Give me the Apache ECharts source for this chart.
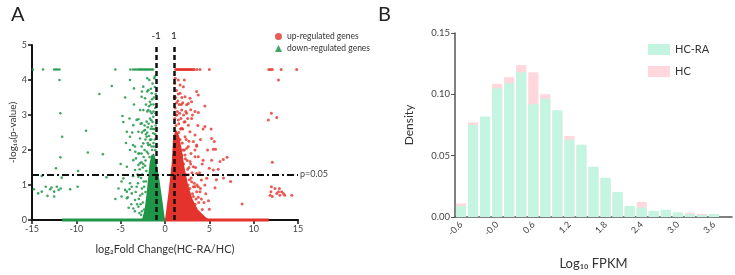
<!DOCTYPE html>
<html lang="en">
<head>
    <meta charset="UTF-8">
    <title>Volcano + density</title>
</head>
<body style="margin:0;background:#fff;">
    <div id="main" style="width:735px;height:275px;"></div>
    <script src="https://cdn.jsdelivr.net/npm/echarts@6/dist/echarts.min.js"></script>
    <script>
        // ---- panel A : volcano plot (log2FC, -log10 p) ----
        var downPoints = [
            [-14.9, 4.3], [-13.75, 4.3], [-12.5, 4.3], [-12.3, 4.3], [-12.1, 4.3], [-11.9, 4.3], [-5.6, 4.3],
            [-3.9, 4.3], [-3.6, 4.3], [-3.4, 4.3], [-3.2, 4.3], [-3.0, 4.3], [-2.85, 4.3], [-2.7, 4.3], [-2.55, 4.3],
            [-2.4, 4.3], [-2.25, 4.3], [-2.1, 4.3], [-1.95, 4.3], [-1.8, 4.3], [-1.65, 4.3], [-1.5, 4.3], [-1.35, 4.3],
            [-11.9, 4.0], [-7.4, 3.6], [-6.0, 3.83], [-11.8, 3.05], [-8.9, 2.55], [-11.6, 2.38], [-11.8, 1.79],
            [-8.7, 1.93], [-7.0, 1.88], [-12.3, 1.48], [-9.8, 1.4], [-13.9, 1.26], [-11.65, 1.21], [-6.6, 1.22],
            [-14.8, 0.88], [-14.3, 0.76], [-13.9, 0.81], [-13.45, 0.95], [-12.95, 0.88], [-13.25, 0.69], [-12.8, 0.93],
            [-12.5, 0.81], [-12.5, 0.67], [-12.2, 0.95], [-12.0, 0.86], [-11.75, 0.9], [-10.7, 0.88], [-9.85, 0.95],
            [-5.25, 0.9], [-4.9, 1.1], [-4.9, 0.67], [-4.3, 0.81], [-4.0, 0.88], [-4.2, 0.65], [-3.75, 0.95],
            [-4.3, 1.52], [-3.95, 2.0], [-3.6, 2.14], [-3.27, 1.76], [-3.0, 1.57],
            [-4.5, 3.5], [-3.5, 3.3], [-4.8, 2.97], [-4.0, 2.9], [-4.7, 2.8], [-3.0, 2.88], [-4.3, 2.52],
            [-2.45, 3.14], [-2.6, 3.67], [-2.0, 3.67], [-2.25, 3.48],
            [-3.95, 4.0], [-3.5, 3.76], [-2.45, 3.81], [-1.77, 4.0], [-1.88, 3.71], [-1.5, 3.62], [-2.63, 3.52],
            [-1.7, 3.38], [-2.8, 3.14], [-1.88, 3.14], [-1.5, 3.05], [-3.2, 2.86], [-3.57, 2.71], [-2.63, 2.76],
            [-2.07, 2.81], [-1.7, 2.9], [-1.32, 2.95], [-3.0, 2.52], [-2.25, 2.57], [-1.5, 2.67], [-3.95, 2.38],
            [-2.82, 2.33], [-2.07, 2.38], [-1.7, 2.29], [-1.32, 2.48], [-2.45, 2.19], [-1.88, 2.14], [-1.5, 2.1],
            [-3.38, 2.1], [-1.3, 2.2],
            [-3.57, 1.71], [-4.7, 1.19], [-4.5, 0.86], [-3.95, 1.05], [-3.75, 0.76], [-4.3, 0.62], [-3.38, 0.57],
            [-3.0, 0.38], [-3.57, 0.33], [-3.2, 0.95], [-3.0, 1.24], [-3.38, 1.43], [-2.82, 1.62], [-3.0, 1.9], [-2.63, 2.1],
            [-2.7, 1.2], [-2.5, 1.5], [-2.4, 1.8], [-2.3, 2.0], [-2.2, 1.7], [-2.1, 1.4], [-2.6, 0.9], [-2.8, 0.7],
            [-2.5, 0.5], [-2.9, 0.2], [-2.7, 0.15], [-2.4, 1.1], [-2.2, 2.3], [-2.0, 2.5], [-1.9, 1.9], [-1.8, 2.4],
            [-1.6, 2.6], [-1.4, 2.8], [-1.2, 2.6], [-1.1, 3.2], [-1.25, 3.5], [-1.4, 3.9], [-1.15, 3.8], [-1.3, 3.3],
            [-1.6, 3.3], [-2.0, 3.1], [-2.3, 2.7], [-2.6, 2.5], [-2.9, 1.9], [-3.1, 1.3], [-3.3, 0.8], [-2.2, 0.8],
            [-2.35, 0.3], [-2.55, 1.3], [-2.65, 1.9], [-2.15, 1.1], [-1.95, 2.2], [-1.75, 1.8], [-1.55, 2.3],
            [-1.15, 2.3], [-1.05, 2.7], [-1.1, 2.0],
            [-1.05, 3.6], [-1.2, 4.05], [-1.45, 3.45], [-1.65, 3.1], [-1.85, 2.75], [-1.35, 2.6], [-1.55, 2.85],
            [-1.1, 2.45], [-1.25, 2.1], [-1.45, 2.0], [-1.7, 2.15], [-2.05, 1.95], [-2.25, 1.55], [-2.45, 1.6],
            [-2.35, 0.95], [-2.55, 0.75], [-2.75, 0.45], [-2.95, 0.6], [-3.15, 0.45], [-3.4, 0.25], [-2.6, 0.25],
            [-3.05, 1.05], [-2.85, 1.45], [-2.65, 1.65], [-2.15, 2.45], [-1.95, 2.65], [-2.4, 2.55], [-2.75, 2.75],
            [-1.8, 3.25], [-2.15, 3.3], [-1.3, 3.1], [-1.05, 3.05], [-1.6, 3.75], [-2.0, 4.05], [-1.15, 4.1],
            [-3.6, 1.25], [-3.8, 0.45], [-4.1, 0.35], [-3.35, 1.95], [-3.7, 2.5], [-4.4, 2.2], [-5.0, 1.6],
            [-5.6, 0.6], [-1.2, 1.7], [-1.05, 1.4]
        ];
        var upPoints = [
            [1.2, 4.3], [1.32, 4.3], [1.44, 4.3], [1.56, 4.3], [1.68, 4.3], [1.8, 4.3], [1.92, 4.3], [2.04, 4.3],
            [2.16, 4.3], [2.28, 4.3], [2.4, 4.3], [2.52, 4.3], [2.64, 4.3], [2.76, 4.3], [2.88, 4.3], [3.0, 4.3],
            [3.15, 4.3], [3.3, 4.3], [3.6, 4.3], [3.95, 4.3], [5.0, 4.3], [11.7, 4.3], [11.9, 4.3], [12.1, 4.3],
            [13.1, 4.3], [14.85, 4.3],
            [12.8, 4.0], [12.0, 3.05], [11.65, 2.86], [12.6, 2.93], [12.1, 1.65], [12.0, 0.95], [12.4, 0.9],
            [12.8, 0.81], [12.95, 0.71], [13.15, 0.81], [13.35, 0.76], [12.6, 0.76], [11.95, 0.81], [12.1, 0.67],
            [13.5, 0.71], [14.3, 0.71], [11.85, 0.71], [12.9, 0.9], [8.7, 0.46], [5.0, 0.31],
            [4.5, 3.26], [4.5, 2.67], [5.26, 2.33], [5.56, 2.24], [5.45, 2.02], [5.7, 2.02], [7.0, 1.79], [6.58, 1.73],
            [6.2, 1.67], [5.26, 1.71], [6.0, 1.45], [5.0, 1.48], [5.45, 1.43], [4.3, 1.71], [3.76, 1.81], [3.38, 2.0],
            [3.57, 2.11], [4.1, 1.14], [4.7, 1.19], [4.5, 1.0], [5.64, 0.92], [3.76, 0.95], [3.95, 0.81],
            [3.57, 3.67], [3.76, 3.57], [3.0, 3.38], [3.38, 3.1], [3.76, 3.07], [2.63, 3.33], [2.18, 4.0], [1.5, 4.0],
            [1.7, 3.86], [2.07, 3.81], [1.7, 3.62], [2.26, 3.52], [2.82, 3.48], [2.44, 3.29], [1.88, 3.14], [2.44, 3.05],
            [3.0, 2.9], [2.26, 2.81], [2.63, 2.71], [1.88, 2.62], [1.5, 2.86], [2.82, 2.52], [3.38, 2.43], [2.26, 2.38],
            [3.2, 2.24], [3.57, 2.14], [2.63, 2.1], [2.93, 1.9], [3.38, 1.81], [2.26, 1.86], [2.82, 1.67], [3.2, 1.52],
            [3.57, 1.33], [2.63, 1.29], [3.0, 1.09], [3.38, 0.95], [2.63, 0.81], [3.2, 0.67], [2.26, 0.57], [2.82, 0.47],
            [3.57, 0.81],
            [1.1, 3.9], [1.3, 3.7], [1.2, 3.5], [1.45, 3.4], [1.15, 3.2], [1.35, 3.0], [1.6, 3.3], [1.25, 2.7],
            [1.55, 2.5], [1.8, 2.9], [2.0, 2.6], [2.1, 3.0], [1.95, 2.2], [2.2, 2.0], [2.4, 2.3], [2.5, 1.7],
            [2.1, 1.6], [2.35, 1.3], [2.6, 1.0], [2.0, 1.1], [2.8, 0.9], [2.45, 0.7], [3.0, 0.5], [3.3, 0.3],
            [2.9, 0.25], [3.6, 0.2], [1.7, 2.0], [1.4, 2.2], [1.05, 2.4], [1.1, 2.9], [1.9, 3.5], [1.4, 3.1],
            [1.75, 2.6], [2.7, 1.5], [2.95, 1.2], [3.1, 0.75], [3.8, 0.5], [4.2, 0.3], [3.5, 0.6], [4.0, 0.9],
            [1.05, 3.5], [1.15, 4.05], [1.3, 3.35], [1.5, 3.6], [1.65, 3.05], [1.85, 3.3], [2.0, 3.35], [2.15, 2.8],
            [2.35, 3.1], [2.55, 2.9], [1.3, 2.45], [1.55, 2.75], [1.7, 2.3], [1.9, 1.85], [2.05, 2.0], [2.3, 1.75],
            [2.45, 2.05], [2.7, 2.25], [2.55, 1.45], [2.75, 1.15], [2.9, 1.6], [3.05, 1.35], [3.3, 1.05], [3.45, 1.5],
            [3.2, 0.95], [3.6, 1.0], [3.75, 0.65], [4.1, 0.6], [4.4, 0.5], [4.6, 0.75], [4.9, 0.55], [3.9, 1.35],
            [4.2, 1.6], [4.0, 2.3], [4.3, 2.6], [3.7, 2.7], [3.1, 3.0], [2.9, 3.15], [1.25, 3.0], [1.45, 1.9],
            [1.05, 2.2], [3.4, 0.45], [2.7, 0.6], [4.8, 2.0], [5.2, 2.6], [6.6, 1.2], [7.4, 1.1], [5.8, 1.15]
        ];
        // solid cores where the points overlap completely
        var downCore = [[0, 0], [-2.6, 0], [-2.3, 0.3], [-2.1, 0.7], [-1.9, 1.2], [-1.75, 1.6], [-1.55, 1.85],
            [-1.25, 1.9], [-1.0, 1.7], [-0.6, 1.1], [-0.3, 0.55]];
        var upCore = [[0, 0], [0.4, 0.8], [0.75, 1.6], [0.9, 2.3], [1.2, 2.6], [1.6, 2.4], [1.9, 2.0],
            [2.2, 1.5], [2.6, 1.0], [3.1, 0.6], [3.7, 0.3], [4.5, 0.1], [5.0, 0]];
        // genes stacked on p = 1 (y = 0)
        var downBase = [[-11.6, 0], [0, 0]];
        var upBase = [[0, 0], [11.7, 0]];

        // ---- panel B : density of log10 FPKM ----
        var fpkmBins = ['-0.6', '-0.4', '-0.2', '-0.0', '0.2', '0.4', '0.6', '0.8', '1.0', '1.2', '1.4', '1.6',
            '1.8', '2.0', '2.2', '2.4', '2.6', '2.8', '3.0', '3.2', '3.4', '3.6', '3.8'];
        var hcraDensity = [0.009, 0.075, 0.082, 0.105, 0.109, 0.118, 0.092, 0.0965, 0.087, 0.063, 0.059, 0.041,
            0.032, 0.0204, 0.0091, 0.0078, 0.005, 0.0059, 0.0038, 0.0025, 0.0015, 0.0025, 0];
        var hcDensity = [0.011, 0.077, 0.080, 0.1086, 0.114, 0.124, 0.118, 0.100, 0.085, 0.066, 0.057, 0.040,
            0.031, 0.019, 0.008, 0.0123, 0.004, 0.005, 0.003, 0.0035, 0.0025, 0.002, 0];

        var GREEN = '#1f9548';
        var RED = '#e3332c';
        var FONT = 'Lato';

        function polygonSeries(name, pts, color) {
            return {
                name: name,
                type: 'custom',
                xAxisIndex: 0,
                yAxisIndex: 0,
                clip: false,
                silent: true,
                z: 1,
                data: pts,
                encode: { x: 0, y: 1 },
                renderItem: function (params, api) {
                    if (params.dataIndex > 0) return;
                    var p = pts.map(function (d) { return api.coord(d); });
                    return { type: 'polygon', shape: { points: p }, style: { fill: color } };
                }
            };
        }

        var myChart = echarts.init(document.getElementById('main'));
        var option = {
            animation: false,
            textStyle: { fontFamily: FONT },
            title: [
                { text: 'A', left: 6, top: 0, textStyle: { fontSize: 20, fontWeight: 'normal', color: '#222', fontFamily: FONT } },
                { text: 'B', left: 373, top: 0, textStyle: { fontSize: 20, fontWeight: 'normal', color: '#222', fontFamily: FONT } }
            ],
            legend: [
                {
                    left: 270, top: 27, orient: 'vertical', itemGap: 3, itemWidth: 7, itemHeight: 7,
                    textStyle: { fontSize: 8.5, color: '#333', fontFamily: FONT },
                    data: [
                        { name: 'up-regulated genes', icon: 'circle' },
                        { name: 'down-regulated genes', icon: 'triangle' }
                    ]
                },
                {
                    left: 643, top: 39, orient: 'vertical', itemGap: 11, itemWidth: 22, itemHeight: 11,
                    textStyle: { fontSize: 11, color: '#333', fontFamily: FONT },
                    data: [{ name: 'HC-RA', icon: 'rect' }, { name: 'HC', icon: 'rect' }]
                }
            ],
            grid: [
                { left: 32, right: 437, top: 45, bottom: 55 },
                { left: 455, right: 3, top: 33, bottom: 57 }
            ],
            xAxis: [
                {
                    gridIndex: 0, type: 'value', min: -15, max: 15, interval: 5,
                    axisLine: { onZero: false, lineStyle: { color: '#111', width: 2 } },
                    axisTick: { length: 4, lineStyle: { color: '#111', width: 1.5 } },
                    axisLabel: { fontSize: 9, color: '#444', margin: 5 },
                    splitLine: { show: false },
                    name: 'log₂Fold Change(HC-RA/HC)', nameLocation: 'middle', nameGap: 24,
                    nameTextStyle: { fontSize: 11, color: '#333' }
                },
                {
                    gridIndex: 1, type: 'category', data: fpkmBins, boundaryGap: true,
                    axisLine: { lineStyle: { color: '#555', width: 1.5 } },
                    axisTick: { interval: 2, alignWithLabel: true, length: 4, lineStyle: { color: '#555' } },
                    axisLabel: { interval: 2, rotate: 45, fontSize: 9, color: '#444', margin: 6 },
                    name: 'Log₁₀ FPKM', nameLocation: 'middle', nameGap: 40,
                    nameTextStyle: { fontSize: 13, color: '#333' }
                }
            ],
            yAxis: [
                {
                    gridIndex: 0, type: 'value', min: 0, max: 5, interval: 1,
                    axisLine: { show: true, onZero: false, lineStyle: { color: '#111', width: 2 } },
                    axisTick: { show: true, length: 4, lineStyle: { color: '#111', width: 1.5 } },
                    axisLabel: { fontSize: 9, color: '#444', margin: 5 },
                    splitLine: { show: false },
                    name: '-log₁₀(p-value)', nameLocation: 'middle', nameGap: 14,
                    nameTextStyle: { fontSize: 10, color: '#333' }
                },
                {
                    gridIndex: 1, type: 'value', min: 0, max: 0.15, interval: 0.05,
                    axisLine: { show: true, onZero: false, lineStyle: { color: '#555', width: 1.5 } },
                    axisTick: { show: true, length: 4, lineStyle: { color: '#555' } },
                    axisLabel: { fontSize: 9.5, color: '#444', margin: 5, formatter: function (v) { return v.toFixed(2); } },
                    splitLine: { show: false },
                    name: 'Density', nameLocation: 'middle', nameGap: 40,
                    nameTextStyle: { fontSize: 12, color: '#333' }
                }
            ],
            series: [
                polygonSeries('downCore', downCore, GREEN),
                polygonSeries('upCore', upCore, RED),
                {
                    name: 'downBase', type: 'line', xAxisIndex: 0, yAxisIndex: 0, data: downBase,
                    symbol: 'none', clip: false, silent: true, z: 3,
                    lineStyle: { color: GREEN, width: 3 }
                },
                {
                    name: 'upBase', type: 'line', xAxisIndex: 0, yAxisIndex: 0, data: upBase,
                    symbol: 'none', clip: false, silent: true, z: 3,
                    lineStyle: { color: RED, width: 3 }
                },
                {
                    name: 'down-regulated genes', type: 'scatter', xAxisIndex: 0, yAxisIndex: 0,
                    data: downPoints, symbol: 'circle', symbolSize: 2.6, clip: false,
                    itemStyle: { color: GREEN, opacity: 0.85 }
                },
                {
                    name: 'up-regulated genes', type: 'scatter', xAxisIndex: 0, yAxisIndex: 0,
                    data: upPoints, symbol: 'circle', symbolSize: 3, clip: false,
                    itemStyle: { color: RED }
                },
                {
                    // cut-off guides
                    name: 'guides', type: 'line', xAxisIndex: 0, yAxisIndex: 0, data: [], clip: false, z: 5,
                    markLine: {
                        silent: true, symbol: 'none', animation: false,
                        lineStyle: { color: '#111', width: 2.5, type: [5, 3] },
                        label: { color: '#222', fontSize: 10, fontFamily: FONT },
                        data: [
                            [{ coord: [-1, 0] }, { coord: [-1, 5], label: { position: 'end', formatter: '-1', distance: 4 } }],
                            [{ coord: [1, 0] }, { coord: [1, 5], label: { position: 'end', formatter: '1', distance: 4 } }],
                            [{ coord: [-15, 1.3], lineStyle: { type: [7, 3, 2, 3], width: 2 } },
                             { coord: [15, 1.3], label: { position: 'end', formatter: 'p=0.05', distance: 2, fontSize: 9, color: '#444' } }]
                        ]
                    }
                },
                {
                    name: 'HC', type: 'bar', xAxisIndex: 1, yAxisIndex: 1, data: hcDensity,
                    barWidth: '84%', barGap: '-100%', itemStyle: { color: '#ffd7dc' }
                },
                {
                    name: 'HC-RA', type: 'bar', xAxisIndex: 1, yAxisIndex: 1, data: hcraDensity,
                    barWidth: '84%', barGap: '-100%', itemStyle: { color: '#c4f5e1' }
                }
            ]
        };
        myChart.setOption(option);
    </script>
</body>
</html>
